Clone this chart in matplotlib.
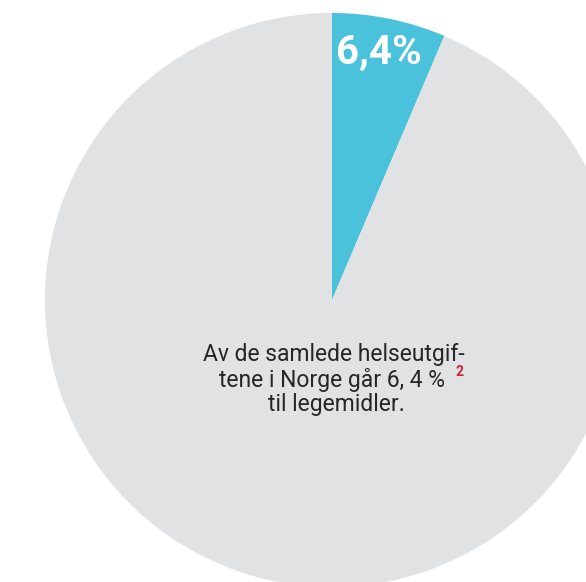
import matplotlib
matplotlib.use("Agg")
import matplotlib.pyplot as plt

# data
labels = ["Legemidler", "Øvrige helseutgifter"]
shares = [6.4, 93.6]
slice_label = "6,4%"
caption_lines = ["Av de samlede helseutgif-", "tene i Norge går 6, 4 %", "til legemidler."]
footnote = "2"

colors = ["#4ac2dc", "#e1e2e4"]

W, H = 586, 582
fig = plt.figure(figsize=(W / 100, H / 100), dpi=100)
ax = fig.add_axes([0, 0, 1, 1])

cx, cy, r = 332, H - 300, 287
ax.pie(shares, colors=colors, startangle=90, counterclock=False,
       center=(cx, cy), radius=r, frame=True,
       wedgeprops=dict(linewidth=0))
ax.set_xlim(0, W)
ax.set_ylim(0, H)
ax.set_aspect("equal")
ax.axis("off")

font = ["Roboto", "DejaVu Sans"]
ax.text(379, H - 53, slice_label, color="white", fontsize=29,
        fontweight="bold", family=font, ha="center", va="center")

# caption, one text per line, centred under the pie centre
x_mid = [334, 332, 336]
for i, line in enumerate(caption_lines):
    ax.text(x_mid[i], H - (355 + 25 * i), line, color="#262626",
            fontsize=16.5, family=font, ha="center", va="center")
ax.text(459, H - 372, footnote, color="#d3202f", fontsize=10,
        fontweight="bold", family=font, ha="center", va="center")

fig.savefig("out.png", dpi=100)
